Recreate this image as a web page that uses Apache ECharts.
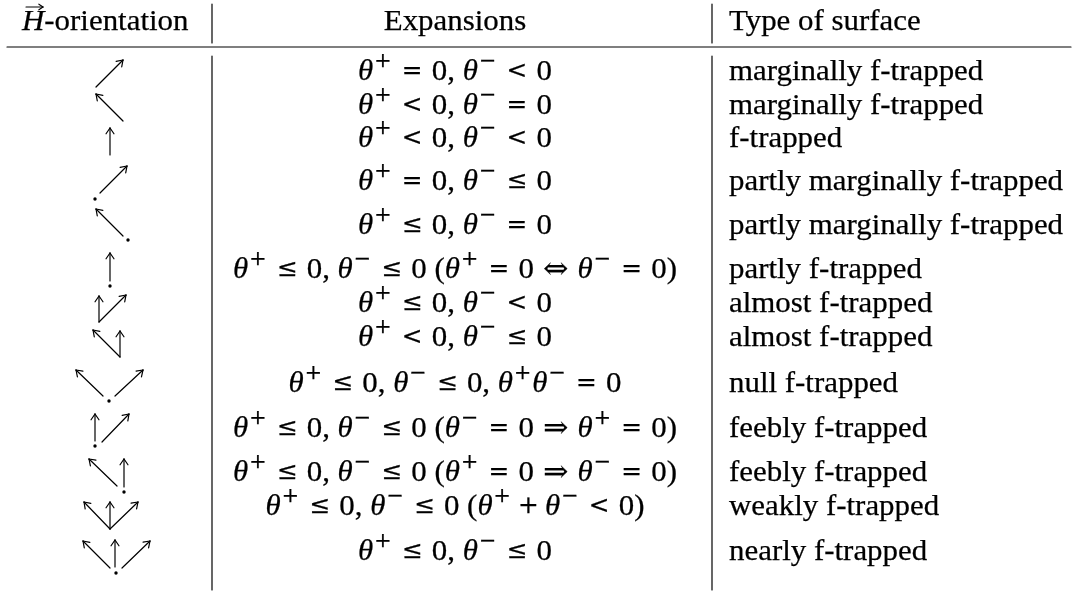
<!DOCTYPE html>
<html>
<head>
<meta charset="utf-8">
<script src="https://cdn.jsdelivr.net/npm/echarts@6/dist/echarts.min.js"></script>
<style>
  html, body { margin: 0; padding: 0; background: #fff; }
  #chart { width: 1078px; height: 592px; }
</style>
</head>
<body>
<div id="chart"></div>
<script>
'use strict';

// table content
const headers = ['H-orientation', 'Expansions', 'Type of surface'];
const orientations = ['ne', 'nw', 'up', 'dot-ne', 'nw-dot', 'up-dot', 'up+ne', 'nw+up',
    'nw.ne', 'up.+ne', 'nw+up.', 'nw+up+ne', 'nw+up.+ne'];
const expansions = [
    'θ+ = 0, θ− < 0',
    'θ+ < 0, θ− = 0',
    'θ+ < 0, θ− < 0',
    'θ+ = 0, θ− ≤ 0',
    'θ+ ≤ 0, θ− = 0',
    'θ+ ≤ 0, θ− ≤ 0 (θ+ = 0 ⇔ θ− = 0)',
    'θ+ ≤ 0, θ− < 0',
    'θ+ < 0, θ− ≤ 0',
    'θ+ ≤ 0, θ− ≤ 0, θ+θ− = 0',
    'θ+ ≤ 0, θ− ≤ 0 (θ− = 0 ⇒ θ+ = 0)',
    'θ+ ≤ 0, θ− ≤ 0 (θ+ = 0 ⇒ θ− = 0)',
    'θ+ ≤ 0, θ− ≤ 0 (θ+ + θ− < 0)',
    'θ+ ≤ 0, θ− ≤ 0'
];
const surfaceTypes = [
    'marginally f-trapped',
    'marginally f-trapped',
    'f-trapped',
    'partly marginally f-trapped',
    'partly marginally f-trapped',
    'partly f-trapped',
    'almost f-trapped',
    'almost f-trapped',
    'null f-trapped',
    'feebly f-trapped',
    'feebly f-trapped',
    'weakly f-trapped',
    'nearly f-trapped'
];

// layout (page pixels, mapped through the hidden axes)
const rowBaseY = [82, 116, 149, 192, 236, 280, 314, 348, 394, 439, 483, 517, 562];
const headBaseY = 32;
const colX = [110, 455, 729];
const sepX = [212, 712];
const ruleY = 47;

const INK = '#000';
const SERIF = '"Liberation Serif", "Times New Roman", serif';
const SYM = '"DejaVu Serif", serif';
const FS = 30;
const SX = 1.03;
const MID = 10;

const RICH = {
    n: { fontFamily: SERIF, fontSize: FS, fill: INK },
    th: { fontFamily: SERIF, fontStyle: 'italic', fontSize: FS, fill: INK },
    sup: { fontFamily: SYM, fontSize: 20, fill: INK, padding: [0, 1, 20, 1] },
    rel: { fontFamily: SYM, fontSize: 24, fill: INK, padding: [0, 9, 0, 9] },
    arr: { fontFamily: SYM, fontSize: 29, fill: INK, padding: [0, 9, 0, 9] },
    bin: { fontFamily: SYM, fontSize: 24, fill: INK, padding: [0, 6, 0, 6] }
};

// arrow glyphs of the first column: ['a', x0, y0, x1, y1] arrow, ['d', x, y] dot
const glyphShapes = {
    'ne': [['a', -14, 5, 13, -22]],
    'nw': [['a', 13, 5, -14, -22]],
    'up': [['a', 0, 6, 0, -21]],
    'dot-ne': [['d', -15, 7], ['a', -10, 1, 17, -26]],
    'nw-dot': [['a', 13, 0, -14, -27], ['d', 18, 4]],
    'up-dot': [['a', 0, 1, 0, -27], ['d', 0, 6]],
    'up+ne': [['a', -11, 8, -11, -18], ['a', -11, 8, 16, -19]],
    'nw+up': [['a', 10, 9, -17, -18], ['a', 10, 9, 10, -17]],
    'nw.ne': [['a', -7, 2, -34, -24], ['d', -1, 7], ['a', 5, 2, 33, -24]],
    'up.+ne': [['a', -15, 2, -15, -25], ['d', -15, 7], ['a', -8, 3, 19, -25]],
    'nw+up.': [['a', 7, 3, -21, -24], ['a', 14, 4, 14, -24], ['d', 14, 9]],
    'nw+up+ne': [['a', 0, 12, -26, -15], ['a', 0, 12, 0, -15], ['a', 0, 12, 28, -15]],
    'nw+up.+ne': [['a', 0, 6, -27, -21], ['a', 5, 5, 5, -22], ['d', 6, 11], ['a', 12, 6, 40, -21]]
};

function mathRich(src) {
    let out = '';
    for (let i = 0; i < src.length; i++) {
        const c = src[i], prev = src[i - 1], next = src[i + 1];
        if (c === 'θ') out += '{th|θ}';
        else if ((c === '+' || c === '−') && prev === 'θ') out += '{sup|' + c + '}';
        else if ('=<≤'.includes(c)) out += '{rel|' + c + '}';
        else if ('⇔⇒'.includes(c)) out += '{arr|' + c + '}';
        else if (c === '+') out += '{bin|+}';
        else if (c === ' ' && ('=<≤⇔⇒+'.includes(next) || '=<≤⇔⇒'.includes(prev) ||
            (prev === '+' && src[i - 2] !== 'θ'))) continue;
        else out += '{n|' + c + '}';
    }
    return out;
}

function seg(x1, y1, x2, y2, w) {
    return { type: 'line', shape: { x1, y1, x2, y2 }, style: { stroke: INK, lineWidth: w || 1.2, lineCap: 'round' } };
}

function arrowLines(x0, y0, x1, y1, head) {
    const a = Math.atan2(y1 - y0, x1 - x0);
    const s = 0.6;
    return [
        seg(x0, y0, x1, y1),
        seg(x1, y1, x1 - head * Math.cos(a - s), y1 - head * Math.sin(a - s)),
        seg(x1, y1, x1 - head * Math.cos(a + s), y1 - head * Math.sin(a + s))
    ];
}

function glyph(code, cx, cy) {
    return glyphShapes[code].flatMap(p => p[0] === 'd'
        ? [{ type: 'circle', shape: { cx: cx + p[1], cy: cy + p[2], r: 1.7 }, style: { fill: INK } }]
        : arrowLines(cx + p[1], cy + p[2], cx + p[3], cy + p[4], 7));
}

function textEl(x, y, text, align) {
    return {
        type: 'text', x: x, y: y - MID, scaleX: SX,
        style: {
            text: text, rich: RICH, align: align, verticalAlign: 'middle',
            fontFamily: SERIF, fontSize: FS, fill: INK, lineHeight: 36,
            stroke: INK, lineWidth: 0.25
        }
    };
}

function renderFrame(params, api) {
    const p = (x, y) => { const c = api.coord([x, y]); return [c[0], c[1]]; };
    const hy = p(0, headBaseY)[1];
    const [x1] = p(colX[1], headBaseY);
    const [x2] = p(colX[2], headBaseY);
    const [ra, ry] = p(7, ruleY);
    const [rb] = p(1071, ruleY);
    const children = [
        textEl(p(22, 0)[0], hy, '{th|' + headers[0][0] + '}{n|' + headers[0].slice(1) + '}', 'left'),
        textEl(x1, hy, headers[1], 'center'),
        textEl(x2, hy, headers[2], 'left'),
        seg(ra, ry, rb, ry, 1.2)
    ];
    // vector arrow over H
    const [hx0, hy0] = p(26, 7);
    const [hx1] = p(43, 7);
    children.push(...arrowLines(hx0, hy0, hx1, hy0, 5).map(l => { l.style.lineWidth = 1.1; return l; }));
    sepX.forEach(sx => {
        const a = p(sx, 4), b = p(sx, 43), c = p(sx, 56), d = p(sx, 590);
        children.push(seg(a[0], a[1], b[0], b[1], 1.2), seg(c[0], c[1], d[0], d[1], 1.2));
    });
    return { type: 'group', children: children };
}

function renderRow(params, api) {
    const i = api.value(0);
    const [gx, y] = api.coord([colX[0], rowBaseY[i]]);
    const [ex] = api.coord([colX[1], rowBaseY[i]]);
    const [tx] = api.coord([colX[2], rowBaseY[i]]);
    return {
        type: 'group',
        children: [
            ...glyph(orientations[i], gx, y),
            textEl(ex, y, mathRich(expansions[i]), 'center'),
            textEl(tx, y, surfaceTypes[i], 'left')
        ]
    };
}

const chart = echarts.init(document.getElementById('chart'));
chart.setOption({
    animation: false,
    backgroundColor: '#fff',
    grid: { left: 0, right: 0, top: 0, bottom: 0 },
    xAxis: { type: 'value', min: 0, max: 1078, show: false },
    yAxis: { type: 'value', min: 0, max: 592, inverse: true, show: false },
    series: [
        { type: 'custom', name: 'frame', silent: true, data: [[0, 0]], renderItem: renderFrame },
        { type: 'custom', name: 'rows', silent: true, data: orientations.map((o, i) => [i, 0]), renderItem: renderRow }
    ]
});
window.onresize = () => {
    chart.resize();
};
</script>
</body>
</html>
